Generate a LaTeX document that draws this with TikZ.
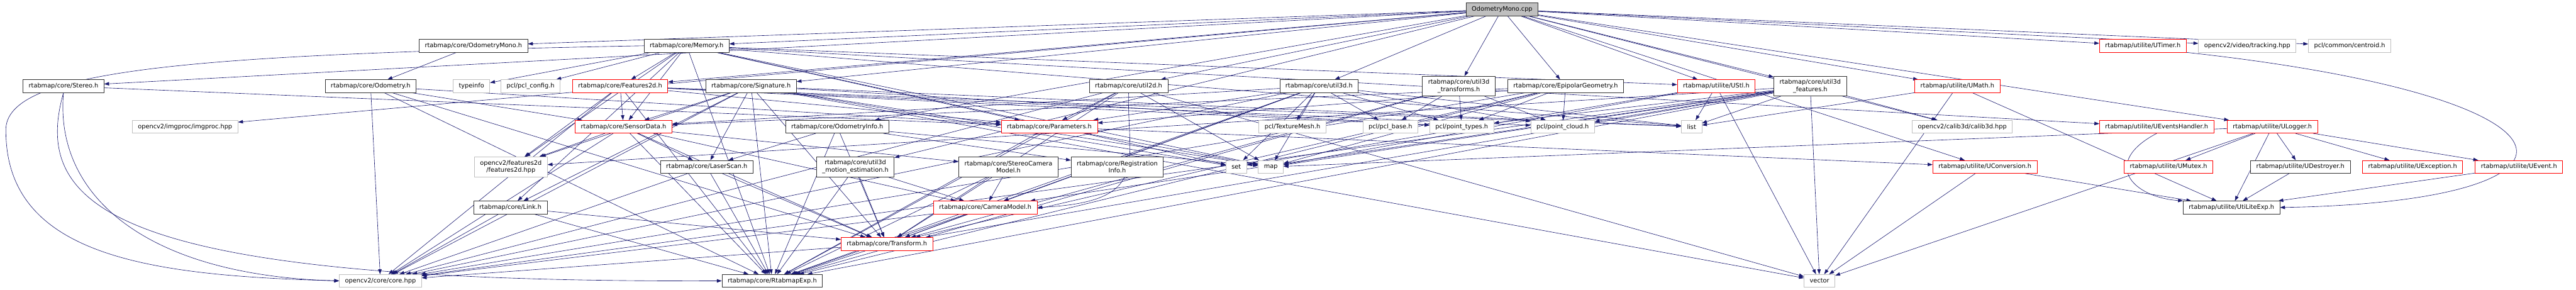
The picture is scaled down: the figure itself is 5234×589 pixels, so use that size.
\documentclass[tikz,border=0pt]{standalone}
\usepackage{fontspec}
\setmainfont{DejaVu Sans}
\usetikzlibrary{arrows.meta}
\definecolor{edgeblue}{RGB}{25,25,112}
\definecolor{extgray}{RGB}{191,191,191}
\pgfdeclarelayer{background}
\pgfsetlayers{background,main}
\begin{document}
\begin{tikzpicture}[
	  x=1pt, y=-1pt,
	  hdr/.style={draw=black!80, fill=white, rectangle, font=\fontsize{12.5}{15}\selectfont,
	    inner xsep=11.5pt, inner ysep=2pt, minimum height=26pt, align=center, line width=0.9pt},
	  root/.style={hdr, fill=extgray},
	  trunc/.style={hdr, draw=red},
	  ext/.style={hdr, draw=extgray},
	  two/.style={minimum height=40pt},
	  dep/.style={-{Triangle[length=10pt,width=7pt]}, draw=edgeblue, line width=0.8pt}]
	  \useasboundingbox (0,0) rectangle (5234,589);
	  \node[root] (cpp) at (3052,19) {OdometryMono.cpp};
	  \node[hdr] (omonoh) at (962,93) {rtabmap/core/OdometryMono.h};
	  \node[hdr] (memory) at (1395,93) {rtabmap/core/Memory.h};
	  \node[trunc] (utimer) at (4354,93) {rtabmap/utilite/UTimer.h};
	  \node[ext] (tracking) at (4566,93) {opencv2/video/tracking.hpp};
	  \node[ext] (centroid) at (4774,93) {pcl/common/centroid.h};
	  \node[hdr] (stereo) at (129,175) {rtabmap/core/Stereo.h};
	  \node[hdr] (odom) at (753,175) {rtabmap/core/Odometry.h};
	  \node[ext] (typeinfo) at (958,175) {typeinfo};
	  \node[ext] (pclconfig) at (1078,175) {pcl/pcl\_config.h};
	  \node[trunc] (feat2d) at (1260,175) {rtabmap/core/Features2d.h};
	  \node[hdr] (signature) at (1526,175) {rtabmap/core/Signature.h};
	  \node[hdr] (util2d) at (2293,175) {rtabmap/core/util2d.h};
	  \node[hdr] (util3d) at (2680,175) {rtabmap/core/util3d.h};
	  \node[hdr, two] (util3dtr) at (2964,175) {rtabmap/core/util3d\\\_transforms.h};
	  \node[hdr] (epipolar) at (3181,175) {rtabmap/core/EpipolarGeometry.h};
	  \node[trunc] (ustl) at (3487,175) {rtabmap/utilite/UStl.h};
	  \node[hdr, two] (util3dft) at (3678,175) {rtabmap/core/util3d\\\_features.h};
	  \node[trunc] (umath) at (3977,175) {rtabmap/utilite/UMath.h};
	  \node[ext] (imgproc) at (376,257.5) {opencv2/imgproc/imgproc.hpp};
	  \node[trunc] (sensordata) at (1267,257.5) {rtabmap/core/SensorData.h};
	  \node[hdr] (odominfo) at (1701,257.5) {rtabmap/core/OdometryInfo.h};
	  \node[trunc] (params) at (2132,257.5) {rtabmap/core/Parameters.h};
	  \node[ext] (texmesh) at (2626,257.5) {pcl/TextureMesh.h};
	  \node[ext] (pclbase) at (2825,257.5) {pcl/pcl\_base.h};
	  \node[ext] (ptypes) at (2970,257.5) {pcl/point\_types.h};
	  \node[ext] (pcloud) at (3175,257.5) {pcl/point\_cloud.h};
	  \node[ext] (list) at (3437,257.5) {list};
	  \node[ext] (calib3d) at (3987,257.5) {opencv2/calib3d/calib3d.hpp};
	  \node[trunc] (uevh) at (4382,257.5) {rtabmap/utilite/UEventsHandler.h};
	  \node[trunc] (ulogger) at (4617,257.5) {rtabmap/utilite/ULogger.h};
	  \node[ext, two] (feat2dhpp) at (1038,339) {opencv2/features2d\\/features2d.hpp};
	  \node[hdr] (laserscan) at (1436,339) {rtabmap/core/LaserScan.h};
	  \node[hdr, two] (motion) at (1738,339) {rtabmap/core/util3d\\\_motion\_estimation.h};
	  \node[hdr, two] (stereocam) at (2049,339) {rtabmap/core/StereoCamera\\Model.h};
	  \node[hdr, two] (reginfo) at (2270,339) {rtabmap/core/Registration\\Info.h};
	  \node[ext] (set) at (2512,339) {set};
	  \node[ext] (map) at (2582,339) {map};
	  \node[trunc] (uconv) at (4033,339) {rtabmap/utilite/UConversion.h};
	  \node[trunc] (umutex) at (4406,339) {rtabmap/utilite/UMutex.h};
	  \node[hdr] (udestroyer) at (4674,339) {rtabmap/utilite/UDestroyer.h};
	  \node[trunc] (uexception) at (4902,339) {rtabmap/utilite/UException.h};
	  \node[trunc] (uevent) at (5118,339) {rtabmap/utilite/UEvent.h};
	  \node[hdr] (link) at (1037,421.5) {rtabmap/core/Link.h};
	  \node[trunc] (cammodel) at (2002,421.5) {rtabmap/core/CameraModel.h};
	  \node[hdr] (utiliteexp) at (4534,421.5) {rtabmap/utilite/UtiLiteExp.h};
	  \node[trunc] (transform) at (1802,495.5) {rtabmap/core/Transform.h};
	  \node[ext] (corehpp) at (773,570.5) {opencv2/core/core.hpp};
	  \node[hdr] (rtabexp) at (1569,570.5) {rtabmap/core/RtabmapExp.h};
	  \node[ext] (vector) at (3697,570.5) {vector};
	  \begin{pgfonlayer}{background}
	  \draw[dep] (cpp) -- (omonoh); \draw[dep] (cpp) -- (memory); \draw[dep] (cpp) -- (stereo);
	  \draw[dep] (cpp) -- (imgproc); \draw[dep] (cpp) -- (feat2d); \draw[dep] (cpp) -- (signature);
	  \draw[dep] (cpp) -- (odominfo); \draw[dep] (cpp) -- (motion); \draw[dep] (cpp) -- (util2d);
	  \draw[dep] (cpp) -- (util3d); \draw[dep] (cpp) -- (util3dtr); \draw[dep] (cpp) -- (epipolar);
	  \draw[dep] (cpp) -- (ustl); \draw[dep] (cpp) -- (util3dft); \draw[dep] (cpp) -- (umath);
	  \draw[dep] (cpp) -- (calib3d); \draw[dep] (cpp) -- (utimer); \draw[dep] (cpp) -- (tracking);
	  \draw[dep] (cpp) -- (centroid); \draw[dep] (cpp) -- (ulogger); \draw[dep] (cpp) -- (uconv);
	  \draw[dep] (omonoh) -- (odom);
	  \draw[dep] (odom) -- (sensordata); \draw[dep] (odom) -- (params); \draw[dep] (odom) -- (transform);
	  \draw[dep] (odom) -- (rtabexp); \draw[dep] (odom) -- (corehpp);
	  \draw[dep] (stereo) -- (params);
	  \draw[dep] (stereo.south) .. controls (110,400) and (300,560) .. (corehpp.west);
	  \draw[dep] (stereo.south) .. controls (60,430) and (250,575) .. (rtabexp.west);
	  \draw[dep] (memory) -- (typeinfo); \draw[dep] (memory) -- (pclconfig); \draw[dep] (memory) -- (feat2d);
	  \draw[dep] (memory) -- (sensordata); \draw[dep] (memory) -- (link); \draw[dep] (memory) -- (params);
	  \draw[dep] (memory) -- (ustl); \draw[dep] (memory) -- (list); \draw[dep] (memory) -- (map);
	  \draw[dep] (memory) -- (set); \draw[dep] (memory) -- (uevh); \draw[dep] (memory) -- (feat2dhpp);
	  \draw[dep] (memory) -- (rtabexp);
	  \draw[dep] (memory.west) .. controls (400,110) and (20,140) .. (12,260) .. controls (8,520) and (300,560) .. (corehpp.west);
	  \draw[dep] (signature) -- (sensordata); \draw[dep] (signature) -- (link); \draw[dep] (signature) -- (transform);
	  \draw[dep] (signature) -- (rtabexp); \draw[dep] (signature) -- (corehpp); \draw[dep] (signature) -- (feat2dhpp);
	  \draw[dep] (signature) -- (ptypes); \draw[dep] (signature) -- (list); \draw[dep] (signature) -- (map);
	  \draw[dep] (signature) -- (set); \draw[dep] (signature) -- (vector); \draw[dep] (signature) -- (laserscan);
	  \draw[dep] (feat2d) -- (params); \draw[dep] (feat2d) -- (sensordata); \draw[dep] (feat2d) -- (feat2dhpp);
	  \draw[dep] (feat2d) -- (corehpp); \draw[dep] (feat2d) -- (pcloud); \draw[dep] (feat2d) -- (ptypes);
	  \draw[dep] (feat2d) -- (list); \draw[dep] (feat2d) -- (rtabexp);
	  \draw[dep] (sensordata) -- (rtabexp); \draw[dep] (sensordata) -- (transform); \draw[dep] (sensordata) -- (cammodel);
	  \draw[dep] (sensordata) -- (stereocam); \draw[dep] (sensordata) -- (laserscan); \draw[dep] (sensordata) -- (corehpp);
	  \draw[dep] (sensordata) -- (feat2dhpp);
	  \draw[dep] (odominfo) -- (transform); \draw[dep] (odominfo) -- (rtabexp); \draw[dep] (odominfo) -- (reginfo);
	  \draw[dep] (odominfo) -- (map); \draw[dep] (odominfo) -- (laserscan);
	  \draw[dep] (params) -- (rtabexp); \draw[dep] (params) -- (map); \draw[dep] (params) -- (uconv);
	  \draw[dep] (util2d) -- (params); \draw[dep] (util2d) -- (corehpp); \draw[dep] (util2d) -- (rtabexp);
	  \draw[dep] (util2d) -- (transform); \draw[dep] (util2d) -- (map); \draw[dep] (util2d) -- (vector);
	  \draw[dep] (util2d.south) .. controls (2290,330) and (2340,410) .. (cammodel.east);
	  \draw[dep] (util3d) -- (texmesh); \draw[dep] (util3d) -- (pclbase); \draw[dep] (util3d) -- (ptypes);
	  \draw[dep] (util3d) -- (pcloud); \draw[dep] (util3d) -- (transform); \draw[dep] (util3d) -- (rtabexp);
	  \draw[dep] (util3d) -- (cammodel); \draw[dep] (util3d) -- (sensordata); \draw[dep] (util3d) -- (params);
	  \draw[dep] (util3d) -- (corehpp); \draw[dep] (util3d) -- (map); \draw[dep] (util3d) -- (set);
	  \draw[dep] (util3d) -- (list);
	  \draw[dep] (util3dtr) -- (pclbase); \draw[dep] (util3dtr) -- (ptypes); \draw[dep] (util3dtr) -- (pcloud);
	  \draw[dep] (util3dtr) -- (transform); \draw[dep] (util3dtr) -- (rtabexp);
	  \draw[dep] (epipolar) -- (ptypes); \draw[dep] (epipolar) -- (pcloud); \draw[dep] (epipolar) -- (params);
	  \draw[dep] (epipolar) -- (sensordata); \draw[dep] (epipolar) -- (transform); \draw[dep] (epipolar) -- (rtabexp);
	  \draw[dep] (epipolar) -- (corehpp); \draw[dep] (epipolar) -- (map);
	  \draw[dep] (ustl) -- (list); \draw[dep] (ustl) -- (map); \draw[dep] (ustl) -- (set); \draw[dep] (ustl) -- (vector);
	  \draw[dep] (util3dft) -- (list); \draw[dep] (util3dft) -- (ptypes); \draw[dep] (util3dft) -- (pcloud);
	  \draw[dep] (util3dft) -- (transform); \draw[dep] (util3dft) -- (cammodel); \draw[dep] (util3dft) -- (rtabexp);
	  \draw[dep] (util3dft) -- (corehpp); \draw[dep] (util3dft) -- (feat2dhpp); \draw[dep] (util3dft) -- (map);
	  \draw[dep] (util3dft) -- (vector); \draw[dep] (util3dft) -- (calib3d);
	  \draw[dep] (umath) -- (list); \draw[dep] (umath) -- (vector); \draw[dep] (umath) -- (utiliteexp);
	  \draw[dep] (ulogger) -- (utiliteexp); \draw[dep] (ulogger) -- (umutex); \draw[dep] (ulogger) -- (udestroyer);
	  \draw[dep] (ulogger) -- (uexception); \draw[dep] (ulogger) -- (uevent); \draw[dep] (ulogger) -- (vector);
	  \draw[dep] (ulogger) -- (map);
	  \draw[dep] (uconv) -- (utiliteexp); \draw[dep] (uconv) -- (vector);
	  \draw[dep] (uevh.south) .. controls (4270,330) and (4330,400) .. (utiliteexp.north west);
	  \draw[dep] (utimer.south east) .. controls (5300,200) and (5300,410) .. (utiliteexp.east);
	  \draw[dep] (uevent) -- (utiliteexp); \draw[dep] (udestroyer) -- (utiliteexp);
	  \draw[dep] (stereocam) -- (cammodel); \draw[dep] (stereocam) -- (transform); \draw[dep] (stereocam) -- (rtabexp);
	  \draw[dep] (cammodel) -- (transform); \draw[dep] (cammodel) -- (rtabexp); \draw[dep] (cammodel) -- (corehpp);
	  \draw[dep] (laserscan) -- (transform); \draw[dep] (laserscan) -- (rtabexp); \draw[dep] (laserscan) -- (corehpp);
	  \draw[dep] (motion) -- (transform); \draw[dep] (motion) -- (rtabexp); \draw[dep] (motion) -- (cammodel);
	  \draw[dep] (link) -- (transform); \draw[dep] (link) -- (rtabexp); \draw[dep] (link) -- (corehpp);
	  \draw[dep] (transform) -- (rtabexp); \draw[dep] (transform) -- (corehpp);
	  \end{pgfonlayer}
	\end{tikzpicture}
\end{document}
